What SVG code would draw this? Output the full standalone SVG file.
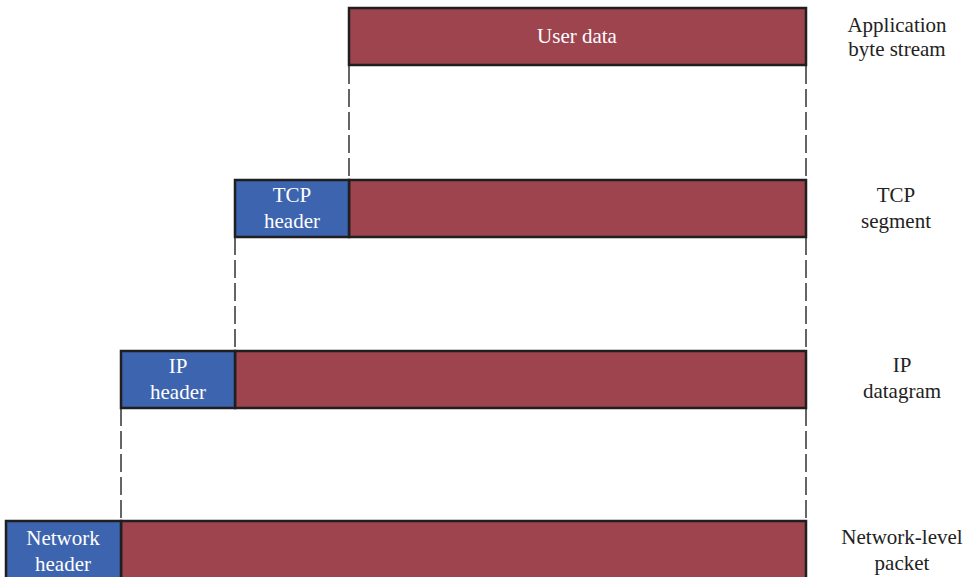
<svg xmlns="http://www.w3.org/2000/svg" width="971" height="577" viewBox="0 0 971 577">
<style>
.data{fill:#9E444F;stroke:#1f1f1f;stroke-width:2.5}
.hdr{fill:#3D64AE;stroke:#1f1f1f;stroke-width:2.5}
.t{font-family:"Liberation Serif",serif;font-size:21px;text-anchor:middle}
.w{fill:#ffffff}
.k{fill:#222222}
.d{stroke:#333333;stroke-width:1.5;stroke-dasharray:18 5;fill:none}
</style>
<rect width="971" height="577" fill="#ffffff"/>
<g id="connectors">
<line class="d" x1="349" y1="66" x2="349" y2="180"/>
<line class="d" x1="806" y1="66" x2="806" y2="180"/>
<line class="d" x1="235" y1="237" x2="235" y2="351"/>
<line class="d" x1="806" y1="237" x2="806" y2="351"/>
<line class="d" x1="121" y1="408" x2="121" y2="521"/>
<line class="d" x1="806" y1="408" x2="806" y2="521"/>
</g>
<g id="user-data">
<rect class="data" x="349" y="8" width="457" height="57"/>
<text class="t w" x="577" y="43">User data</text>
</g>
<g id="tcp-data">
<rect class="data" x="349" y="180" width="457" height="57"/>
</g>
<g id="tcp-header">
<rect class="hdr" x="235" y="180" width="114" height="57"/>
<text class="t w" x="292" y="202">TCP</text>
<text class="t w" x="292" y="228">header</text>
</g>
<g id="ip-data">
<rect class="data" x="235" y="351" width="571" height="57"/>
</g>
<g id="ip-header">
<rect class="hdr" x="121" y="351" width="114" height="57"/>
<text class="t w" x="178" y="373">IP</text>
<text class="t w" x="178" y="399">header</text>
</g>
<g id="net-data">
<rect class="data" x="121" y="521" width="685" height="60"/>
</g>
<g id="net-header">
<rect class="hdr" x="6" y="521" width="115" height="60"/>
<text class="t w" x="63" y="545">Network</text>
<text class="t w" x="63" y="571">header</text>
</g>
<g id="labels">
<text class="t k" x="897" y="32">Application</text>
<text class="t k" x="897" y="56">byte stream</text>
<text class="t k" x="896" y="202">TCP</text>
<text class="t k" x="896" y="228">segment</text>
<text class="t k" x="902" y="372">IP</text>
<text class="t k" x="902" y="398">datagram</text>
<text class="t k" x="902" y="544">Network-level</text>
<text class="t k" x="902" y="570">packet</text>
</g>
</svg>
